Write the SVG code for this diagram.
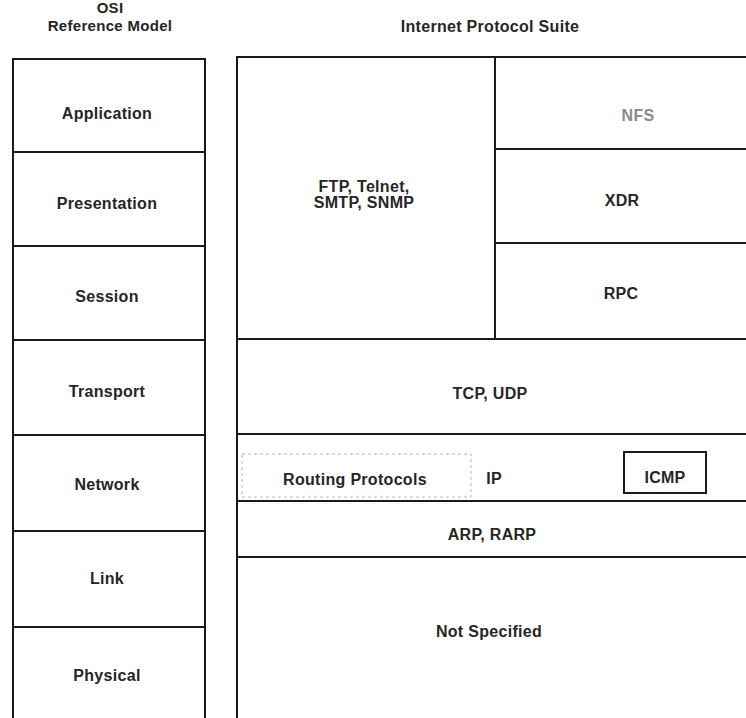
<svg xmlns="http://www.w3.org/2000/svg" width="746" height="718" viewBox="0 0 746 718">
<style>
.ln{stroke:#1a1a1a;stroke-width:2;fill:none}
.t{font-family:"Liberation Sans",Arial,sans-serif;font-weight:bold;font-size:16px;fill:#262626;text-anchor:middle;letter-spacing:0.3px}
.h{font-size:15px}
.g{fill:#8a8a8a}
.dash{stroke:#b8b8b8;stroke-width:1;fill:none;stroke-dasharray:3 3}
</style>
<rect width="746" height="718" fill="#ffffff"/>
<g id="titles">
<text class="t h" x="110" y="13">OSI</text>
<text class="t h" x="110" y="31">Reference Model</text>
<text class="t" x="490" y="32">Internet Protocol Suite</text>
</g>
<g id="connectors">
<path class="ln" d="M13,718 V59 H205 V718"/>
<path class="ln" d="M13,152 H205 M13,246 H205 M13,340 H205 M13,435 H205 M13,531 H205 M13,627 H205"/>
<path class="ln" d="M237,718 V57 H746"/>
<path class="ln" d="M495,57 V339 M495,149 H746 M495,243 H746"/>
<path class="ln" d="M237,339 H746 M237,434 H746 M237,501 H746 M237,557 H746"/>
</g>
<g id="osi-application"><text class="t" x="107" y="119">Application</text></g>
<g id="osi-presentation"><text class="t" x="107" y="209">Presentation</text></g>
<g id="osi-session"><text class="t" x="107" y="302">Session</text></g>
<g id="osi-transport"><text class="t" x="107" y="397">Transport</text></g>
<g id="osi-network"><text class="t" x="107" y="490">Network</text></g>
<g id="osi-link"><text class="t" x="107" y="584">Link</text></g>
<g id="osi-physical"><text class="t" x="107" y="681">Physical</text></g>
<g id="ftp"><text class="t" x="364" y="192">FTP, Telnet,</text><text class="t" x="364" y="208">SMTP, SNMP</text></g>
<g id="nfs"><text class="t g" x="638" y="121">NFS</text></g>
<g id="xdr"><text class="t" x="622" y="206">XDR</text></g>
<g id="rpc"><text class="t" x="621" y="299">RPC</text></g>
<g id="tcp"><text class="t" x="490" y="399">TCP, UDP</text></g>
<g id="routing"><rect class="dash" x="242" y="454" width="229" height="43"/><text class="t" x="355" y="485">Routing Protocols</text></g>
<g id="ip"><text class="t" x="494" y="484">IP</text></g>
<g id="icmp"><rect class="ln" x="624" y="452" width="82" height="41"/><text class="t" x="665" y="483">ICMP</text></g>
<g id="arp"><text class="t" x="492" y="540">ARP, RARP</text></g>
<g id="notspec"><text class="t" x="489" y="637">Not Specified</text></g>
</svg>
